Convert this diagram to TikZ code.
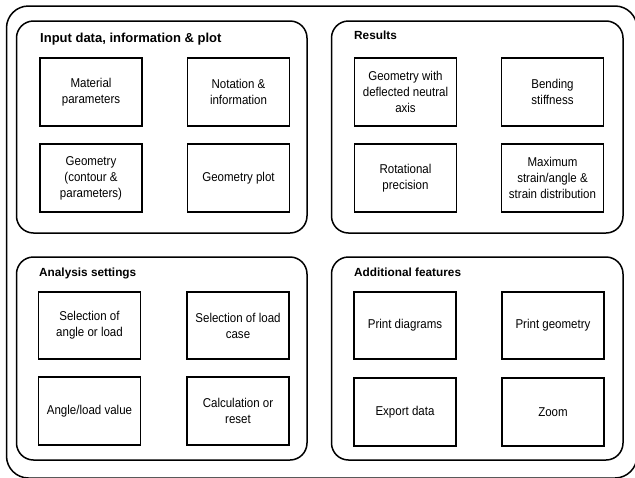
\documentclass[tikz,border=0pt]{standalone}
\usepackage{fontspec}
\setmainfont{Liberation Sans}
\newfontfamily\narrowsans[FakeStretch=0.9]{Liberation Sans}
\begin{document}
\begin{tikzpicture}[x=1pt,y=-1pt,
  outerbox/.style={draw, line width=1.5pt, rounded corners=22pt, minimum width=630.5pt, minimum height=472pt, inner sep=0pt},
  grp/.style={draw, line width=1.5pt, rounded corners=17pt, inner sep=0pt},
  ibox/.style={draw, line width=1.7pt, minimum width=102pt, minimum height=67.5pt, inner sep=1pt, align=center, font=\narrowsans\fontsize{12.8}{16}\selectfont},
  ttl/.style={anchor=base west, inner sep=0pt, font=\bfseries\fontsize{11.8}{14}\selectfont}
]
\useasboundingbox (0,0) rectangle (635,477);
\node[outerbox] (outer) at (321.75,242) {};
% groups
\node[grp, minimum width=290.5pt, minimum height=212pt] (g1) at (161.75,127) {};
\node[grp, minimum width=291.5pt, minimum height=212pt] (g2) at (477.25,127) {};
\node[grp, minimum width=290.5pt, minimum height=203pt] (g3) at (161.75,358.5) {};
\node[grp, minimum width=291.5pt, minimum height=203pt] (g4) at (477.25,358.5) {};
% titles
\node[ttl, font=\bfseries\fontsize{13}{15}\selectfont] (t1) at (40,42) {Input data, information \& plot};
\node[ttl] (t2) at (354,39) {Results};
\node[ttl] (t3) at (39,276.5) {Analysis settings};
\node[ttl] (t4) at (354,276) {Additional features};
% input data
\node[ibox] (a1) at (91,92) {Material\\parameters};
\node[ibox] (a2) at (238.5,92) {Notation \&\\information};
\node[ibox] (a3) at (91,178) {Geometry\\(contour \&\\parameters)};
\node[ibox] (a4) at (238.5,178) {Geometry plot};
% results
\node[ibox] (b1) at (405.5,92) {Geometry with\\deflected neutral\\axis};
\node[ibox] (b2) at (552.5,92) {Bending\\stiffness};
\node[ibox] (b3) at (405.5,178) {Rotational\\precision};
\node[ibox] (b4) at (552.5,178) {Maximum\\strain/angle \&\\strain distribution};
% analysis settings
\node[ibox] (c1) at (89.5,325.5) {Selection of\\angle or load};
\node[ibox] (c2) at (238,325.5) {Selection of load\\case};
\node[ibox] (c3) at (89.5,411) {Angle/load value};
\node[ibox] (c4) at (238,411) {Calculation or\\reset};
% additional features
\node[ibox] (d1) at (405,325.5) {Print diagrams};
\node[ibox] (d2) at (553,325.5) {Print geometry};
\node[ibox] (d3) at (405,412) {Export data};
\node[ibox] (d4) at (553,412) {Zoom};
\end{tikzpicture}
\end{document}
